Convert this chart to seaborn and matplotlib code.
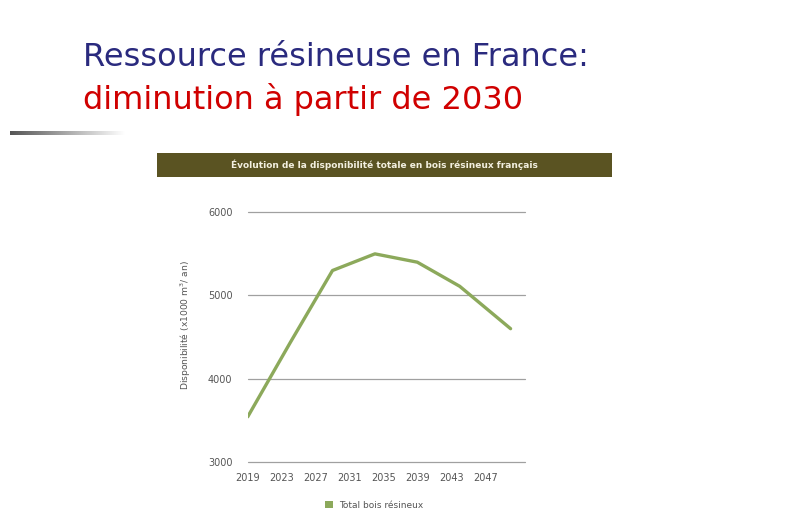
import numpy as np
import pandas as pd
import matplotlib
matplotlib.use("Agg")
import matplotlib.pyplot as plt
from matplotlib.patches import Rectangle, Patch
import seaborn as sns

years = [2019, 2024, 2029, 2034, 2039, 2044, 2050]
disponibilite = [3540, 4430, 5300, 5500, 5400, 5110, 4600]
xtick_years = [2019, 2023, 2027, 2031, 2035, 2039, 2043, 2047]
ytick_vals = [3000, 4000, 5000, 6000]
series_name = "Total bois résineux"

df = pd.DataFrame({"annee": years, "dispo": disponibilite})

sns.set_style("white")
plt.rcParams['font.family'] = ['DejaVu Sans']

fig = plt.figure(figsize=(8, 5.19), dpi=100)
fig.patch.set_facecolor("white")

# Titles
fig.text(83/800, 1-58/519, "Ressource résineuse en France:", color="#2A2A7E",
         fontsize=23, ha="left", va="center", family="DejaVu Sans")
fig.text(83/800, 1-100/519, "diminution à partir de 2030", color="#D00000",
         fontsize=23, ha="left", va="center", family="DejaVu Sans")

# gradient rule
gax = fig.add_axes([10/800, 1-135/519, 115/800, 4/519])
grad = np.linspace(0, 1, 256).reshape(1, -1)
gax.imshow(grad, aspect="auto", cmap="gray", vmin=-0.5, vmax=1.0)
gax.axis("off")

# banner
fig.patches.append(Rectangle((157/800, 1-177/519), 455/800, 24/519,
                             transform=fig.transFigure, facecolor="#5A5322",
                             edgecolor="none", zorder=0))
fig.text(384/800, 1-165/519, "Évolution de la disponibilité totale en bois résineux français",
         color="#F2EFDF", fontsize=6.5, fontweight="bold", ha="center", va="center")

ax = fig.add_axes([247.7/800, 1-461.7/519, (525-247.7)/800, (461.7-212.3)/519])
sns.lineplot(data=df, x="annee", y="dispo", ax=ax, color="#8CA95B", linewidth=2.4)
ax.set_xlim(2019, 2051.7)
ax.set_ylim(3000, 6000)
ax.set_yticks(ytick_vals)
ax.set_xticks(xtick_years)
ax.set_xticklabels([str(y) for y in xtick_years])
ax.grid(axis="y", color="#A0A0A0", linewidth=0.9)
ax.grid(axis="x", visible=False)
for gl in ax.get_ygridlines():
    gl.set_clip_on(False)
for s in ax.spines.values():
    s.set_visible(False)
ax.tick_params(axis="both", length=0, labelsize=7, labelcolor="#555555")
ax.tick_params(axis="y", pad=11)
ax.tick_params(axis="x", pad=8)
ax.set_xlabel("")
ax.set_ylabel("Disponibilité (x1000 m$^3$/ an)", fontsize=6.6, color="#555555")
ax.yaxis.set_label_coords(-0.197, 0.548)

handles = [Patch(facecolor="#8CA95B", edgecolor="none", label=series_name)]
fig.legend(handles=handles, loc="center", bbox_to_anchor=(374/800, 1-505/519),
           frameon=False, fontsize=6.5, handlelength=0.9, handleheight=0.9,
           handletextpad=0.6, labelcolor="#555555")

fig.savefig("out.png", dpi=100)
